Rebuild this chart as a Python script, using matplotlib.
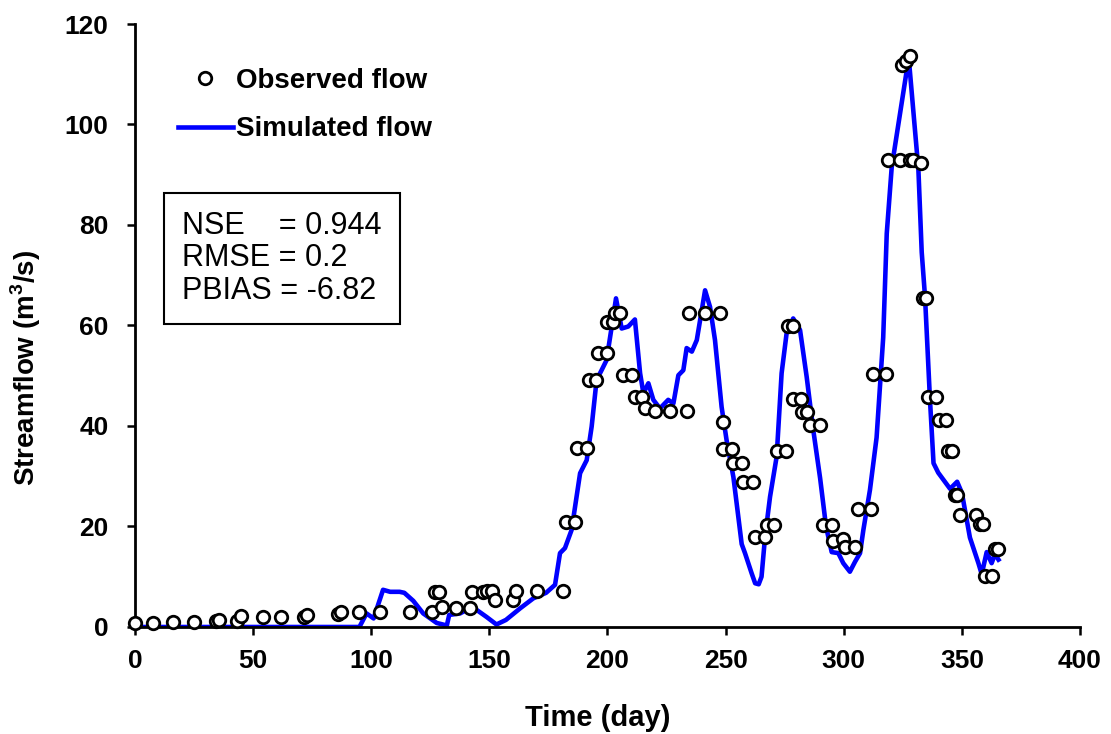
import matplotlib
matplotlib.use("Agg")
import matplotlib.pyplot as plt

# observed flow (day, m3/s)
obs_day = [0, 7.5, 16, 25, 34.5, 35.6, 43, 44.7, 54, 62, 71.7, 72.7, 85.8, 87, 95,
           103.5, 116.4, 125.6, 127, 128.8, 129.8, 136, 141.8, 142.5, 147.4, 149.1, 151,
           152.4, 160, 161.2, 170, 181, 182.4, 186.2, 187, 191.2, 192.3, 195.1, 196, 199.6,
           199.6, 202.5, 203.2, 205.3, 206.4, 210.2, 211.6, 214.5, 215.7, 220, 226.5, 233.5,
           234.5, 241.3, 247.6, 248.7, 249, 252.6, 253.3, 256.8, 257.5, 261.7, 262.4, 266.7,
           267.4, 270.5, 271.6, 275.6, 276.6, 278.4, 278.4, 281.8, 282.2, 284.6, 285.7, 290,
           291.1, 294.9, 295.5, 299.5, 300.5, 304.8, 305.9, 311.4, 312.5, 317.9, 318.9, 323.8,
           324.5, 326.4, 328.1, 328.1, 329.4, 332.6, 333.7, 334.8, 335.8, 339, 340.5, 343.2,
           344.3, 345.7, 347, 348, 349.2, 356, 357.5, 359, 359.8, 362.8, 364, 365.5]
obs_flow = [0.8, 0.7, 1.0, 1.05, 1.2, 1.4, 1.1, 2.2, 2.0, 2.0, 2.0, 2.4, 2.6, 3.0, 3.0,
            2.9, 2.9, 2.9, 7.0, 7.0, 4.0, 3.8, 3.8, 6.9, 6.9, 7.2, 7.2,
            5.4, 5.4, 7.2, 7.2, 7.2, 20.8, 20.8, 35.7, 35.7, 49.2, 49.2, 54.6, 54.6,
            60.6, 60.6, 62.5, 62.5, 50.1, 50.1, 45.8, 45.8, 43.5, 43.0, 43.0, 43.0,
            62.5, 62.5, 62.5, 40.7, 35.5, 35.5, 32.7, 32.7, 28.9, 28.9, 18.0, 18.0,
            20.3, 20.3, 35.1, 35.1, 59.9, 59.9, 45.4, 45.4, 42.7, 42.7, 40.2, 40.2,
            20.3, 20.3, 17.1, 17.5, 16.0, 16.0, 23.5, 23.5, 50.4, 50.4, 92.9, 92.9,
            111.8, 112.7, 113.6, 92.9, 92.9, 92.3, 65.5, 65.5, 45.8, 45.8, 41.1, 41.1,
            35.1, 35.1, 26.3, 26.3, 22.2, 22.2, 20.4, 20.4, 10.1, 10.1, 15.6, 15.6]

# simulated flow, breakpoints
sim_day = [0, 95, 98, 101, 105, 108, 112, 114, 117.8, 122, 127.7, 132, 133, 137.6, 140.4,
           144.6, 148.8, 153, 157, 163, 168.6, 174, 177.8, 179.9, 182, 184.8, 188.4, 191.2,
           193.3, 195.4, 197.5, 199.6, 201.8, 203.6, 206, 208.8, 211.6, 213.8, 215.2, 217.3,
           219.4, 222.2, 225.7, 227.9, 230, 232.1, 233.5, 235.7, 237.8, 241.3, 243.4, 245.5,
           248.3, 250.4, 253.3, 256.8, 258.2, 261, 262.5, 264, 265.2, 266.7, 268.8, 271.6,
           273.7, 275.8, 278.6, 281.5, 284.3, 287.1, 290, 292.5, 294.9, 297.7, 299.8, 302.6,
           304.8, 306.9, 308.3, 311.1, 313.9, 316.7, 318.2, 320.3, 327.5, 331.6, 333, 334.4,
           336.5, 338, 340, 345, 348, 350, 353.4, 357, 358.4, 360.5, 362.6, 364, 365.5]
sim_flow = [0, 0, 2.7, 1.7, 7.4, 7.0, 7.0, 6.8, 5.2, 2.7, 0.8, 0.3, 2.4, 2.7, 3.4,
            3.4, 2.0, 0.5, 1.4, 3.7, 5.7, 6.8, 8.4, 14.7, 15.7, 19.3, 30.6, 33.2,
            39.9, 49.2, 51.1, 53.1, 59.8, 65.4, 59.4, 59.8, 61.2, 50.5, 46.5, 48.5,
            45.2, 43.5, 45.2, 44.5, 50.1, 51.1, 55.5, 54.8, 57.1, 67.0, 63.7, 57.1,
            43.8, 37.2, 29.8, 16.5, 14.7, 10.7, 8.7, 8.5, 10.0, 18.0, 25.9, 33.9,
            50.5, 58.4, 61.4, 59.1, 49.8, 39.2, 29.6, 20.0, 14.9, 14.7, 12.7, 11.0,
            13.0, 14.7, 19.3, 27.3, 37.7, 57.6, 78.3, 91.5, 113.3, 91.0, 74.6, 65.7,
            45.2, 32.6, 30.7, 27.5, 28.9, 26.7, 17.8, 12.7, 10.5, 14.9, 12.7, 14.5, 13.4]

stats_text = "NSE    = 0.944\nRMSE = 0.2\nPBIAS = -6.82"

plt.rcParams['font.family'] = ['Liberation Sans', 'DejaVu Sans']

fig = plt.figure(figsize=(11.11, 7.34), dpi=100)
ax = fig.add_axes([0.1215, 0.1458, 0.8506, 0.8215])

ax.plot(sim_day, sim_flow, color="#0000ff", lw=3.3, label="Simulated flow", zorder=2)
ax.plot(obs_day, obs_flow, ls="none", marker="o", ms=9, mfc="white", mec="black",
        mew=2, label="Observed flow", zorder=3, clip_on=False)

ax.set_xlim(0, 400)
ax.set_ylim(0, 120)
ax.set_xticks(range(0, 401, 50))
ax.set_yticks(range(0, 121, 20))

for s in ["top", "right"]:
    ax.spines[s].set_visible(False)
for s in ["left", "bottom"]:
    ax.spines[s].set_linewidth(2)

ax.tick_params(axis="both", direction="out", length=6, width=1.8, labelsize=19)
ax.tick_params(axis="y", pad=13)
ax.tick_params(axis="x", pad=10)
for lab in ax.get_xticklabels() + ax.get_yticklabels():
    lab.set_fontweight("bold")

ax.set_xlabel("Time (day)", fontsize=21, fontweight="bold")
ax.set_ylabel("Streamflow (m$^\\mathregular{3}$/s)", fontsize=20, fontweight="bold")
ax.xaxis.set_label_coords(0.49, -0.128)
ax.yaxis.set_label_coords(-0.097, 0.43)

h, l = ax.get_legend_handles_labels()
ax.legend(h[::-1], l[::-1], loc="upper left", bbox_to_anchor=(0.045, 0.927), frameon=False,
          handlelength=2.0, handletextpad=0.1, labelspacing=0.8, borderpad=0,
          borderaxespad=0, prop={"size": 20, "weight": "bold"})

ax.text(0.0497, 0.6115, stats_text, transform=ax.transAxes, fontsize=22, va="center",
        ha="left", linespacing=1.1,
        bbox=dict(boxstyle="square,pad=0.6", fc="white", ec="black", lw=1.5))

fig.savefig("out.png", dpi=100)
